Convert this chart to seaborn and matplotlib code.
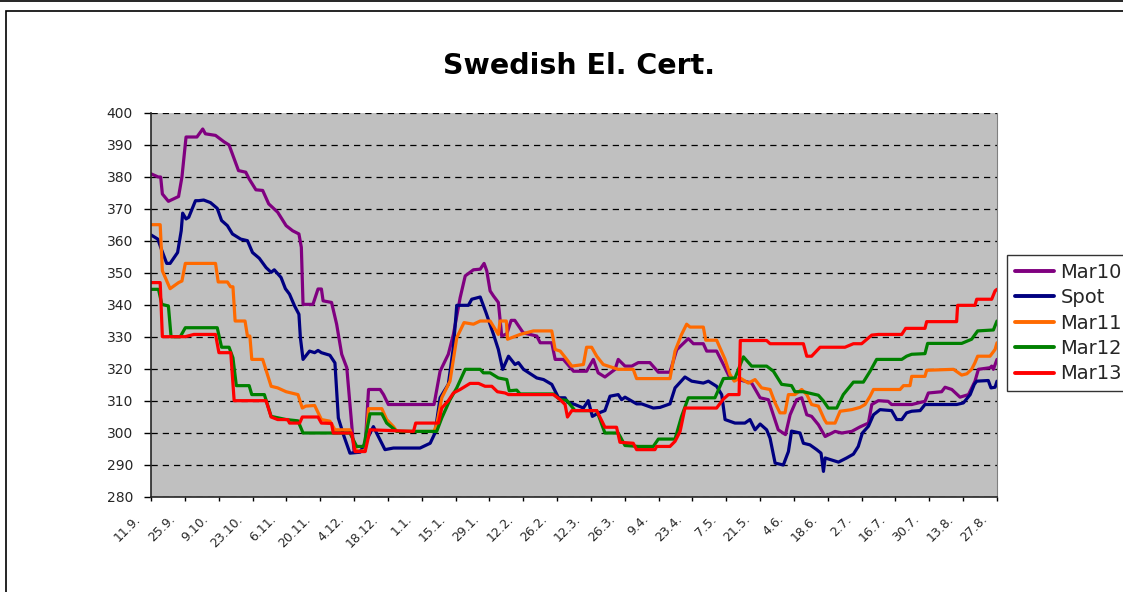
import numpy as np
import pandas as pd
import seaborn as sns
import matplotlib
matplotlib.use("Agg")
import matplotlib.pyplot as plt
from matplotlib.lines import Line2D
from matplotlib.patches import Rectangle
from matplotlib.transforms import ScaledTranslation

sns.set_style("ticks")
plt.rcParams['font.family'] = ['DejaVu Sans']

# dagar efter 11.9.2008 och kurser
start = pd.Timestamp("2008-09-11")

mar10_days = [0, 3, 4, 4.7, 7.2, 11.4, 12.8, 14.5, 19, 21.4, 22.5, 26.7, 30.2, 32.3, 36.2, 39.2, 40.6, 43.4,
              46.2, 48.7, 52.4, 55.9, 58.6, 61.2, 62.2, 62.9, 67, 69.1, 70.5, 71.2, 74.7, 76.8, 78.9, 81, 84,
              88.5, 90, 94.8, 96.2, 98.2, 117.1, 119.6, 123, 125.1, 127.9, 130, 133.4, 136.2, 137.8, 138.9,
              140.3, 141.7, 143.7, 145.1, 147.2, 149, 150.5, 154, 159.6, 161, 165.8, 167.2, 170.6, 174.8,
              180.2, 183, 185, 187.8, 192, 193.3, 196.1, 198.9, 201.6, 206.4, 209.9, 214.7, 217.5, 222.3,
              224.4, 228.5, 229.9, 234, 236.8, 239.5, 243, 248.5, 252, 255.4, 259.5, 262.5, 264.4, 267.1,
              269.2, 271.3, 273.3, 276.1, 278.9, 283, 285.8, 289.9, 293.3, 296.8, 298.2, 300.9, 305, 306.4,
              314.7, 320.2, 321.6, 327.1, 328.5, 331.3, 334.7, 338.2, 340.9, 342.3, 347.1, 347.8, 348.5, 350]
mar10_vals = [381, 380, 380, 374.7, 372.4, 373.9, 380, 392.5, 392.5, 395, 393.5, 393, 391, 390, 382, 381.5, 379.4, 376,
              375.8, 371.6, 369, 364.8, 363.2, 362.2, 358, 340.2, 340.2, 345, 345, 341.3, 340.8, 334, 324.6, 320.4, 294.2,
              294.5, 313.6, 313.6, 312, 308.9, 308.9, 319.3, 324.6, 330.8, 342.3, 349.1, 351, 351.2, 353, 350.7,
              344.4, 342.8, 340.8, 330.3, 331, 335.2, 335.2, 331.3, 330.3, 328.2, 328.2, 323, 323, 319.3,
              319.3, 323, 318.8, 317.5, 319.9, 323, 320.9, 320.9, 322, 322, 319, 319, 326, 329.5,
              327.9, 327.9, 325.6, 325.6, 321.4, 317.2, 316.7, 315.6, 311, 310.4, 301, 299.5, 305.7, 310.4,
              311, 305.7, 305.2, 302.6, 298.9, 300.5, 300, 300.5, 301.9, 303.1, 308.9, 310.1, 309.9, 308.9,
              308.9, 309.9, 312.5, 312.9, 314.3, 313.6, 311.2, 312, 316.2, 319.9, 320.4, 320.9, 319.9, 323]

spot_days = [0, 2.8, 4.5, 6.5, 7.9, 11, 12.5, 13.1, 14.5, 15.6, 18.4, 19.7, 21.8, 24.6, 27.4, 29.2, 31.6, 33.7,
             37.1, 39.9, 42, 44.8, 47.6, 49.7, 51, 53.8, 55.6, 57.3, 59.4, 61.2, 61.8, 62.9, 65.6, 67.7, 69.1,
             70.5, 74, 76.1, 77.5, 79.6, 82.3, 86.5, 88, 92, 96.8, 100.3, 111.3, 115.5, 117.5, 119.6, 123, 125.1,
             126.5, 131.3, 132.7, 136.2, 138.6, 141.7, 143.7, 145.5, 147.9, 150.6, 152, 154.1, 159.6, 162.4,
             165.8, 168.6, 171.3, 172.3, 175.4, 178.9, 180.9, 182.6, 185, 187.8, 189.9, 193.3, 194.7, 196.1,
             200.9, 203, 207.8, 210.6, 214.7, 216.8, 220.9, 223.7, 228.5, 230.6, 234, 236.1, 237.5, 241.6,
             245.7, 247.8, 249.9, 252, 254.7, 256.1, 258.2, 261.6, 263.7, 265, 268.5, 269.9, 272.6, 275.4,
             277.2, 278.2, 278.9, 284.4, 287.8, 290.6, 292.6, 294.3, 296.8, 298.9, 301.6, 306.4, 308.5, 310.6,
             312.6, 314.7, 318.2, 320.2, 333.3, 336.1, 338.9, 340.6, 341.6, 346.4, 347.5, 349.2, 350]
spot_vals = [361.9, 360.6, 357, 353, 353, 356.4, 363.2, 368.7, 366.9, 367.4, 372.6, 372.6, 372.8, 372, 370.2, 366.4, 364.8, 362.2,
             360.6, 360.1, 356.4, 354.6, 351.7, 350.2, 351, 348.6, 345.1, 343.4, 339.7, 337.1, 329.8, 323, 325.6, 325.1, 325.8,
             325.1, 324.3, 321.9, 304.7, 299.5, 293.7, 294, 296, 302, 294.8, 295.3, 295.3, 296.8, 300, 311, 315.2, 326.7,
             339.9, 339.9, 341.8, 342.5, 337.6, 330.8, 326.1, 319.9, 324, 321.4, 322, 319.9, 317.2, 316.7,
             315.2, 311, 311, 309.6, 308.9, 307.8, 310.1, 305.2, 306.2, 307, 311.5, 312, 310.4, 311.2,
             309.1, 309.1, 307.8, 308, 309.1, 314.1, 317.5, 316.2, 315.6, 316.2, 314.6, 312, 304.2, 303.1,
             303.1, 304.2, 301, 302.8, 301, 298.4, 290.6, 290, 294.2, 300.6, 300, 296.8, 296.3, 294.8,
             293.7, 288, 292.2, 290.9, 292.2, 293.4, 295.8, 300, 302.1, 305.7, 307.3, 307, 304.2, 304.2,
             306.3, 306.8, 307, 308.9, 308.9, 309.4, 312, 315.2, 316.2, 316.4, 314.1, 314.3, 316.2]

mar11_days = [0, 3.8, 4.7, 7.9, 11.4, 12.8, 14.2, 26.7, 27.8, 31.6, 32.9, 33.9, 34.8, 38.9, 39.9, 40.9, 41.7, 46.2,
              49.7, 52.4, 55.9, 60.8, 62.6, 64, 67.7, 70.5, 74, 76.1, 82.3, 85.1, 88.6, 90, 95.5, 97.5, 100.3,
              101.7, 117, 118.2, 120.3, 123.7, 126.5, 129.5, 133.4, 136.2, 140.3, 143.7, 144.4, 147, 147.5,
              152.7, 158.2, 165.8, 167.2, 169.3, 172, 174.1, 178.9, 180.2, 182.3, 184.4, 187.1, 193.3, 199.5,
              200.9, 214.7, 216.8, 219.5, 221.6, 223, 228.5, 229.5, 234, 237.5, 239.5, 241.3, 243.7, 247.1,
              249.9, 252.6, 256.1, 258.2, 260.2, 262.3, 263.7, 266.4, 269.2, 271.3, 273.3, 276.1, 278.6, 279.5,
              283, 285.1, 289.9, 293.3, 295.4, 297.5, 298.9, 309.9, 311.3, 314, 314.7, 320.2, 320.9, 332,
              335.4, 337.5, 339.5, 340.9, 342, 347.1, 349.2, 350]
mar11_vals = [365.1, 365.1, 350.7, 345.1, 347, 347.5, 353, 353, 347.2, 347.2, 345.7, 345.7, 335, 335, 330.3, 330.3, 323, 323,
              314.6, 314.1, 312.9, 312, 307.8, 308.4, 308.6, 304.2, 303.7, 301, 301, 294.2, 294.5, 307.6, 307.6, 304.2, 302,
              300.5, 300.5, 302.6, 311, 316.2, 329.8, 334.5, 334, 335, 335, 330.8, 335, 335, 329.3,
              330.8, 331.9, 331.9, 326.1, 325.6, 323, 320.9, 321.4, 326.8, 326.8, 324, 321.4, 319.9, 319.9,
              317, 317, 325.6, 330.8, 334, 333.1, 333.1, 329, 329, 323, 318.3, 316.2, 317.2, 315.6,
              316.7, 314.1, 313.6, 309.4, 306.3, 306.3, 312, 312, 313.6, 312, 308.9, 308.4, 304.2, 303.1,
              303.1, 306.8, 307.3, 308, 308.9, 311.5, 313.6, 313.6, 314.8, 314.8, 317.7, 317.7, 319.6, 319.9,
              318.1, 318.5, 319.9, 322, 324, 324, 326.1, 328.2]

mar12_days = [0, 3.1, 4.5, 7.2, 8.3, 12.1, 14.2, 27.4, 29.2, 32.3, 33.9, 35.3, 40.6, 41.7, 46.9, 49.7, 55.9, 60.8,
              62.9, 82.3, 85.1, 88, 90.6, 95.5, 97.5, 101.7, 118.2, 120.3, 123.7, 126.5, 130, 136.2, 137.5, 140.3,
              143.7, 147.2, 148.2, 151.3, 152.7, 166.5, 169.3, 172, 175.4, 184.4, 187.8, 193.3, 196.1, 201.6,
              207.8, 209.9, 216.8, 219.5, 222.3, 233.3, 236.8, 241.6, 245.1, 248.5, 254.7, 257.5, 260.9, 265,
              266.4, 269.9, 276.1, 278.2, 280.2, 283.7, 286.4, 290.6, 294.7, 297.5, 300.2, 310.6, 312.6, 314.7,
              320.2, 321.3, 335.4, 339.5, 342, 348.5, 350]
mar12_vals = [344.9, 344.9, 340.2, 339.7, 330.1, 330.1, 332.9, 332.9, 326.8, 326.8, 323.5, 314.8, 314.8, 312, 312, 305.2, 304.2, 303.8,
              300, 300, 295.8, 295.8, 306, 306, 303.1, 300.5, 300.5, 304.7, 310.4, 314.1, 319.9, 319.9, 318.8, 318.8,
              317.2, 316.7, 313.2, 313.4, 312.2, 312.2, 310.4, 310.2, 307, 307, 300, 300, 296.1, 295.8,
              295.8, 298.1, 298.1, 305.2, 311, 311, 317, 317.2, 323.8, 320.9, 320.9, 319.3, 315.2, 314.8,
              312.9, 312.9, 311.8, 310, 307.8, 307.8, 312, 315.9, 315.9, 319.3, 323, 323, 324, 324.6,
              324.8, 328, 328, 329.3, 331.9, 332.2, 335]

mar13_days = [0, 3.8, 4.7, 14.2, 17.7, 26.7, 28.1, 33, 34.4, 47.6, 49.7, 52.4, 56.6, 57.3, 61.5, 62.6, 69.1, 70.5,
              74.7, 75.4, 83, 84.4, 88.6, 90.6, 108.6, 109.5, 118.9, 120.3, 123, 125.1, 127.9, 132, 135.5, 138.2,
              141, 143.3, 146.5, 147.9, 166.5, 169.3, 171.3, 172.3, 174.1, 184.4, 187.8, 192.6, 194, 199.5, 200.9,
              208.5, 209.2, 214.7, 216.8, 218.9, 220.9, 234, 236.8, 238.9, 243.3, 243.8, 254.7, 256.1, 269.9,
              271.3, 273.3, 276.8, 287.1, 290.6, 294, 298.2, 300.9, 310.6, 312.2, 320.2, 320.9, 333.3, 333.7,
              340.9, 341.6, 347.8, 349.2, 350]
mar13_vals = [347, 347, 330.1, 330.1, 330.8, 330.8, 325.1, 325.1, 310.1, 310.1, 305, 304.2, 304.2, 303.1, 303.1, 305, 305, 303.1,
              303, 300, 300, 294.2, 294.2, 301, 300.5, 303.1, 303.1, 307.8, 310.1, 312.5, 313.6, 315.5, 315.5, 314.6,
              314.6, 312.9, 312.5, 312, 312, 310.4, 308.9, 305, 307, 307, 301.8, 301.8, 297.1, 296.8, 294.8,
              294.8, 295.8, 295.8, 297.4, 300.5, 307.8, 307.8, 310.6, 312, 312, 328.9, 328.9, 327.9, 327.9,
              324, 324, 326.8, 326.8, 327.9, 327.9, 330.6, 330.8, 330.8, 332.7, 332.7, 334.8, 334.8, 339.9,
              339.9, 341.8, 341.8, 344.4, 344.9]

names = ["Mar10", "Spot", "Mar11", "Mar12", "Mar13"]
colors = ["#800080", "#000080", "#FF6A00", "#008000", "#FF0000"]
y_ticks = list(range(280, 401, 10))

series = {"Mar10": (mar10_days, mar10_vals), "Spot": (spot_days, spot_vals),
          "Mar11": (mar11_days, mar11_vals), "Mar12": (mar12_days, mar12_vals),
          "Mar13": (mar13_days, mar13_vals)}
frames = []
for n in names:
    d, v = series[n]
    frames.append(pd.DataFrame({"date": start + pd.to_timedelta(d, unit="D"), "value": v, "series": n}))
df = pd.concat(frames, ignore_index=True)

fig = plt.figure(figsize=(11.23, 5.92), dpi=100)
ax = fig.add_axes([151/1123, 95/592, 846/1123, 384/592])
ax.set_facecolor("#C0C0C0")

sns.lineplot(data=df, x="date", y="value", hue="series", hue_order=names,
             palette=dict(zip(names, colors)), linewidth=2.3, ax=ax, legend=False)

ax.set_ylim(280, 400)
ax.set_yticks(y_ticks)
ax.set_yticklabels([str(t) for t in y_ticks], fontsize=10)
xt = pd.date_range(start, periods=26, freq="14D")
ax.set_xlim(start, xt[-1])
ax.set_xticks(xt)
ax.set_xticklabels([f"{t.day}.{t.month}." for t in xt], rotation=45, ha="right", va="center",
                   rotation_mode="anchor", fontsize=9)
ax.tick_params(axis="y", direction="out", length=5, width=1, color="black", pad=8)
ax.tick_params(axis="x", direction="out", length=3, width=1, color="black", pad=0)
# etiketterna lite ned och till vänster, som i Excel
shift = ScaledTranslation(-0.12, -0.16, fig.dpi_scale_trans)
for lab in ax.get_xticklabels():
    lab.set_transform(lab.get_transform() + shift)
ax.set_xlabel("")
ax.set_ylabel("")
ax.yaxis.grid(True, linestyle=(0, (5, 4)), color="black", linewidth=0.9)
ax.set_axisbelow(True)
ax.spines["top"].set_visible(False)
ax.spines["right"].set_color("#808080")
ax.spines["left"].set_linewidth(1.2)
ax.spines["bottom"].set_linewidth(1.2)

fig.text(579/1123, 1 - 66/592, "Swedish El. Cert.", ha="center", va="center",
         fontsize=20.5, fontweight="bold", color="black")

handles = [Line2D([0], [0], color=c, lw=2.8) for c in colors]
fig.legend(handles, names, loc="upper left", bbox_to_anchor=(1007/1123, 1 - 255/592),
           frameon=True, fancybox=False, edgecolor="black", fontsize=14,
           handlelength=2.0, handletextpad=0.35, labelspacing=0.33, borderpad=0.4,
           borderaxespad=0)

# ramen runt diagrammet
fig.add_artist(Rectangle((6/1123, -0.05), 1.2, 1 - 11/592 + 0.05, transform=fig.transFigure,
                         fill=False, edgecolor="black", linewidth=1.2))
fig.add_artist(Line2D([0, 1], [1 - 0.5/592, 1 - 0.5/592], transform=fig.transFigure,
                      color="black", linewidth=1.2))

fig.savefig("out.png", dpi=100)
